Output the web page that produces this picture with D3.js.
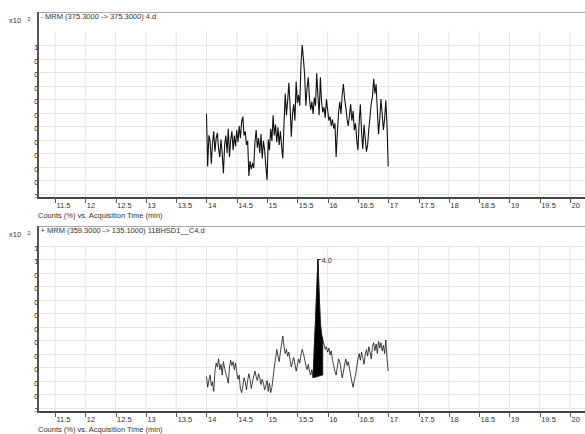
<!DOCTYPE html>
<html>
<head>
<meta charset="utf-8">
<script src="https://cdn.jsdelivr.net/npm/d3@7"></script>
<style>
  body { margin: 0; background: #fff; }
  svg { display: block; font-family: "Liberation Sans", Arial, sans-serif; }
</style>
</head>
<body>
<svg id="chart" width="585" height="434"></svg>
<script>
// Acquisition: samples every 0.02 min from 14.00 to 17.00 min
const timeStart = 14.0;
const timeStep = 0.02;

// MRM (375.3 -> 375.3), counts in units of 10^2 %
const trace1 = [
  0.49, 0.10, 0.33, 0.29, 0.12,
  0.27, 0.36, 0.21, 0.31, 0.35,
  0.23, 0.17, 0.30, 0.19, 0.05,
  0.26, 0.33, 0.20, 0.38, 0.17,
  0.30, 0.36, 0.22, 0.33, 0.25,
  0.37, 0.28, 0.40, 0.31, 0.43,
  0.47, 0.33, 0.36, 0.26, 0.29,
  0.03, 0.14, 0.08, 0.12, 0.09,
  0.28, 0.37, 0.24, 0.31, 0.20,
  0.34, 0.16, 0.29, 0.22, 0.10,
  0.00, 0.30, 0.22, 0.38, 0.29,
  0.48, 0.33, 0.41, 0.28, 0.39,
  0.26, 0.36, 0.25, 0.16, 0.42,
  0.64, 0.48, 0.59, 0.72, 0.55,
  0.32, 0.49, 0.56, 0.44, 0.73,
  0.57, 0.63, 0.55, 0.86, 1.00,
  0.90, 0.78, 0.55, 0.68, 0.76,
  0.60, 0.52, 0.58, 0.49, 0.61,
  0.55, 0.79, 0.62, 0.48, 0.76,
  0.58, 0.50, 0.54, 0.46, 0.60,
  0.52, 0.44, 0.47, 0.40, 0.45,
  0.38, 0.42, 0.17, 0.35, 0.50,
  0.58, 0.49, 0.63, 0.71, 0.60,
  0.54, 0.45, 0.40, 0.48, 0.56,
  0.44, 0.51, 0.37, 0.42, 0.30,
  0.22, 0.43, 0.56, 0.35, 0.23,
  0.41, 0.31, 0.21, 0.26, 0.38,
  0.47, 0.57, 0.62, 0.75, 0.64,
  0.71, 0.52, 0.34, 0.45, 0.60,
  0.49, 0.37, 0.45, 0.59, 0.40,
  0.10
];

// MRM (359.3 -> 135.1), counts in units of 10^2 %
const trace2 = [
  0.13, 0.05, 0.10, 0.14, 0.06,
  0.09, 0.02, 0.17, 0.23, 0.20,
  0.26, 0.18, 0.22, 0.14, 0.24,
  0.19, 0.15, 0.12, 0.08, 0.20,
  0.25, 0.21, 0.24, 0.18, 0.23,
  0.16, 0.11, 0.14, 0.04, 0.01,
  0.06, 0.12, 0.09, 0.03, 0.10,
  0.15, 0.11, 0.04, 0.09, 0.13,
  0.17, 0.13, 0.10, 0.15, 0.12,
  0.07, 0.11, 0.08, 0.03, 0.06,
  0.10, 0.02, 0.08, 0.01, 0.05,
  0.12, 0.20, 0.26, 0.33, 0.28,
  0.24, 0.31, 0.37, 0.43, 0.35,
  0.30, 0.33, 0.28, 0.31, 0.25,
  0.20, 0.24, 0.27, 0.22, 0.17,
  0.21, 0.26, 0.23, 0.29, 0.33,
  0.30, 0.26, 0.21, 0.18, 0.22,
  0.17, 0.14, 0.18, 0.12, 0.35,
  0.55, 0.78, 1.00, 0.74, 0.52,
  0.44, 0.40, 0.37, 0.33, 0.35,
  0.31, 0.34, 0.29, 0.32, 0.25,
  0.21, 0.17, 0.14, 0.20, 0.26,
  0.24, 0.18, 0.12, 0.16, 0.22,
  0.26, 0.21, 0.24, 0.19, 0.14,
  0.09, 0.05, 0.10, 0.14, 0.20,
  0.26, 0.30, 0.25, 0.31, 0.27,
  0.22, 0.29, 0.33, 0.28, 0.35,
  0.31, 0.26, 0.35, 0.38, 0.32,
  0.37, 0.30, 0.39, 0.34, 0.38,
  0.32, 0.36, 0.30, 0.40, 0.26,
  0.17
];

// Integrated peak in the second transition
const peakStart = 15.76;
const peakEnd = 15.92;
const peakBaseline = [0.12, 0.14];
const peakApex = 15.84;
const peakLabel = "4.0";

const titles = [
  "- MRM (375.3000 -> 375.3000) 4.d",
  "+ MRM (359.3000 -> 135.1000) 11BHSD1__C4.d"
];
const xAxisTitle = "Counts (%) vs. Acquisition Time (min)";

const xTickValues = [11.5, 12, 12.5, 13, 13.5, 14, 14.5, 15, 15.5, 16, 16.5, 17, 17.5, 18, 18.5, 19, 19.5, 20];
const xTickLabels = ["11.5", "12", "12.5", "13", "13.5", "14", "14.5", "15", "15.5", "16", "16.5", "17", "17.5", "18", "18.5", "19", "19.5", "20"];
const yTickValues1 = [1.0, 0.9, 0.8, 0.7, 0.6, 0.5, 0.4, 0.3, 0.2, 0.1, 0.0, -0.1];
const yTickLabels1 = ["1", "0.9", "0.8", "0.7", "0.6", "0.5", "0.4", "0.3", "0.2", "0.1", "0", "-0.1"];
const yTickValues2 = [1.1, 1.0, 0.9, 0.8, 0.7, 0.6, 0.5, 0.4, 0.3, 0.2, 0.1, 0.0, -0.1];
const yTickLabels2 = ["1.1", "1", "0.9", "0.8", "0.7", "0.6", "0.5", "0.4", "0.3", "0.2", "0.1", "0", "-0.1"];

const svg = d3.select("#chart");
const W = 585;
const left = 38;
const textColor = "#333";

const x = d3.scaleLinear().domain([11.5, 20]).range([55, 570]);

const defs = svg.append("defs");
defs.append("clipPath").attr("id", "ylabelClip")
  .append("rect").attr("x", 0).attr("y", 0).attr("width", 37.5).attr("height", 434);
defs.append("clipPath").attr("id", "plotClip")
  .append("rect").attr("x", left).attr("y", 0).attr("width", W - left).attr("height", 434);

function drawPanel(offsetY, title, values, yTickValues, yTickLabels, traceWidth, peak) {
  const frameTop = 12 + offsetY;
  const axisY = 198 + offsetY;
  const y = d3.scaleLinear().domain([-0.1333, 1.1]).range([axisY, 31.5 + offsetY]);
  const g = svg.append("g");

  // grid
  const grid = g.append("g").attr("clip-path", "url(#plotClip)");
  grid.selectAll("line.v").data(xTickValues).join("line")
    .attr("x1", d => x(d)).attr("x2", d => x(d))
    .attr("y1", y(1.1)).attr("y2", axisY)
    .attr("stroke", "#e4e4e4").attr("stroke-width", 1);
  grid.selectAll("line.h").data(yTickValues).join("line")
    .attr("x1", left).attr("x2", W)
    .attr("y1", d => Math.round(y(d)) + 0.5).attr("y2", d => Math.round(y(d)) + 0.5)
    .attr("stroke", "#e4e4e4").attr("stroke-width", 1);

  // frame top
  g.append("line").attr("x1", left).attr("x2", W)
    .attr("y1", frameTop + 0.5).attr("y2", frameTop + 0.5)
    .attr("stroke", "#a8a8a8").attr("stroke-width", 1);

  // trace
  const pts = values.map((v, i) => [timeStart + i * timeStep, v]);
  const line = d3.line().x(d => x(d[0])).y(d => y(d[1]));

  if (peak) {
    const inPeak = pts.filter(d => d[0] >= peak.start - 1e-9 && d[0] <= peak.end + 1e-9);
    const base = t => peak.baseline[0] + (peak.baseline[1] - peak.baseline[0]) * (t - peak.start) / (peak.end - peak.start);
    const area = d3.area().x(d => x(d[0])).y0(d => y(base(d[0]))).y1(d => y(d[1]));
    g.append("path").attr("d", area(inPeak)).attr("fill", "#000").attr("stroke", "#000").attr("stroke-width", 0.6);
  }
  g.append("path").attr("d", line(pts)).attr("fill", "none")
    .attr("stroke", "#111").attr("stroke-width", traceWidth);

  if (peak) {
    const apexV = values[Math.round((peak.apex - timeStart) / timeStep)];
    const ax = x(peak.apex), ay = y(apexV);
    g.append("line").attr("x1", ax).attr("x2", ax + 3).attr("y1", ay + 0.5).attr("y2", ay + 0.5)
      .attr("stroke", "#333").attr("stroke-width", 1);
    g.append("text").attr("x", ax + 3.5).attr("y", ay + 4)
      .attr("font-size", 7.5).attr("fill", textColor).text(peak.label);
  }

  // x axis
  g.append("line").attr("x1", left - 1).attr("x2", W)
    .attr("y1", axisY).attr("y2", axisY)
    .attr("stroke", "#444").attr("stroke-width", 2);
  g.selectAll("line.xt").data(xTickValues).join("line")
    .attr("x1", d => Math.round(x(d)) + 0.5).attr("x2", d => Math.round(x(d)) + 0.5)
    .attr("y1", axisY).attr("y2", axisY + 5)
    .attr("stroke", "#555").attr("stroke-width", 1);
  g.selectAll("text.xl").data(xTickValues).join("text")
    .attr("x", d => x(d) + 1.5).attr("y", axisY + 10)
    .attr("font-size", 7.5).attr("fill", textColor)
    .text((d, i) => xTickLabels[i]);

  // y axis
  g.append("line").attr("x1", left).attr("x2", left)
    .attr("y1", frameTop).attr("y2", axisY + 1)
    .attr("stroke", "#555").attr("stroke-width", 2);
  const yl = g.append("g").attr("clip-path", "url(#ylabelClip)");
  yl.selectAll("text").data(yTickValues).join("text")
    .attr("x", 34.3).attr("y", d => y(d) + 5)
    .attr("font-size", 7.5).attr("fill", textColor)
    .text((d, i) => yTickLabels[i]);
  g.selectAll("line.yt").data(yTickValues).join("line")
    .attr("x1", 35).attr("x2", left)
    .attr("y1", d => Math.round(y(d)) + 0.5).attr("y2", d => Math.round(y(d)) + 0.5)
    .attr("stroke", "#555").attr("stroke-width", 1);

  // multiplier
  g.append("text").attr("x", 9).attr("y", offsetY + 22.5)
    .attr("font-size", 7.5).attr("fill", textColor).text("x10");
  g.append("text").attr("x", 27.5).attr("y", offsetY + 20.5)
    .attr("font-size", 5.5).attr("fill", textColor).text("2");

  // title
  g.append("text").attr("x", 40.5).attr("y", frameTop + 6.5)
    .attr("font-size", 7.5).attr("fill", textColor).text(title);

  // axis title
  g.append("text").attr("x", 38).attr("y", axisY + 20)
    .attr("font-size", 7.5).attr("fill", textColor).text(xAxisTitle);
}

drawPanel(0, titles[0], trace1, yTickValues1, yTickLabels1, 1.1, null);
drawPanel(214, titles[1], trace2, yTickValues2, yTickLabels2, 0.8,
  { start: peakStart, end: peakEnd, baseline: peakBaseline, apex: peakApex, label: peakLabel });
</script>
</body>
</html>
